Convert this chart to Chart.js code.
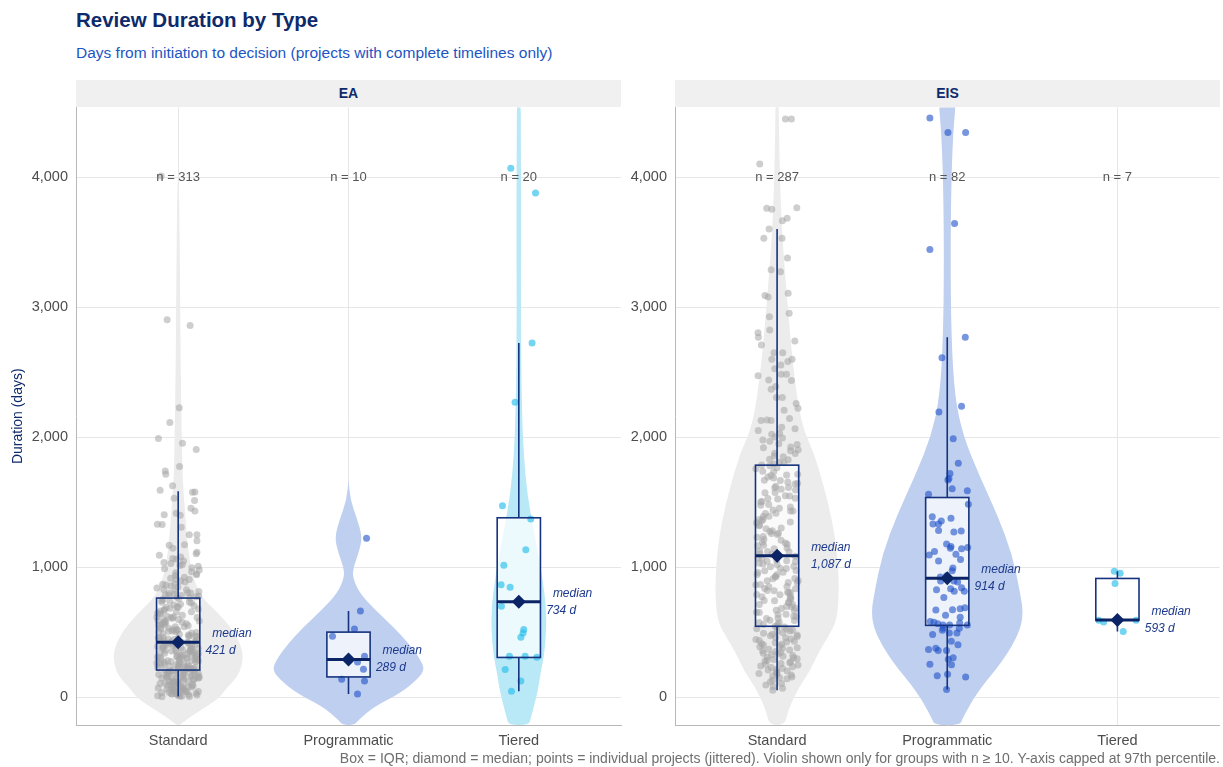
<!DOCTYPE html>
<html>
<head>
<meta charset="utf-8">
<script src="https://cdn.jsdelivr.net/npm/chart.js@4"></script>
<style>
  body { margin: 0; background: #fff; font-family: "Liberation Sans", Arial, sans-serif; }
  #page { position: relative; width: 1223px; height: 767px; overflow: hidden; }
  .abs { position: absolute; white-space: nowrap; }
  #title { left: 76px; top: 8px; font-size: 20.5px; font-weight: bold; color: #0d2a6b; }
  #subtitle { left: 76px; top: 44px; font-size: 15.5px; color: #1c55c4; }
  .strip { top: 80px; width: 545px; height: 27px; line-height: 27px; background: #f0f0f0;
           text-align: center; font-size: 14px; font-weight: bold; color: #0d2a6b; }
  #caption { right: 3px; top: 750px; font-size: 14px; color: #6e6e6e; }
  canvas { position: absolute; top: 104px; }
</style>
</head>
<body>
<div id="page">
  <div id="title" class="abs">Review Duration by Type</div>
  <div id="subtitle" class="abs">Days from initiation to decision (projects with complete timelines only)</div>
  <canvas id="chartEA" width="625" height="663" style="left:0"></canvas>
  <canvas id="chartEIS" width="598" height="663" style="left:625px"></canvas>
  <div class="abs strip" style="left:76px">EA</div>
  <div class="abs strip" style="left:675px">EIS</div>
  <div id="caption" class="abs">Box = IQR; diamond = median; points = individual projects (jittered). Violin shown only for groups with n ≥ 10. Y-axis capped at 97th percentile.</div>
</div>
<script>
// ---- data ----
const categories = ['Standard', 'Programmatic', 'Tiered'];
const yTicks = [0, 1000, 2000, 3000, 4000];

const nEA = [313, 10, 20];
const nEIS = [287, 82, 7];

// box stats (days)
const medEA = [421, 289, 734];
const q1EA = [208, 155, 305];
const q3EA = [762, 500, 1380];
const loEA = [4, 23, 45];
const hiEA = [1585, 662, 2725];

const medEIS = [1087, 914, 593];
const q1EIS = [545, 552, 592];
const q3EIS = [1785, 1536, 913];
const loEIS = [52, 58, 505];
const hiEIS = [3603, 2770, 969];

// violin outlines: levels (days) and half widths (x units)
const vEAStandardY = [-215, -150, -75, 0, 55, 130, 200, 300, 385, 515, 646, 770, 900, 1000, 1200, 1415, 1670, 2000, 2500, 3000, 3500, 4010];
const vEAStandardW = [0.012, 0.071, 0.165, 0.247, 0.276, 0.329, 0.365, 0.382, 0.371, 0.324, 0.235, 0.135, 0.094, 0.074, 0.053, 0.041, 0.026, 0.021, 0.015, 0.012, 0.009, 0.004];
const vEAProgY = [-215, -177, -77, 31, 131, 208, 285, 415, 538, 669, 800, 923, 1000, 1108, 1231, 1385, 1515, 1669];
const vEAProgW = [0.035, 0.059, 0.147, 0.306, 0.4, 0.447, 0.424, 0.353, 0.265, 0.159, 0.065, 0.024, 0.029, 0.059, 0.082, 0.047, 0.012, 0];
const vEATierY = [-215, -160, 45, 197, 348, 652, 955, 1258, 1561, 1864, 2167, 2773, 3682, 4288, 4600];
const vEATierW = [0.059, 0.071, 0.112, 0.129, 0.153, 0.165, 0.135, 0.091, 0.049, 0.029, 0.019, 0.012, 0.014, 0.012, 0.012];
const vEISStandardY = [-215, -100, 77, 200, 338, 465, 592, 846, 1108, 1362, 1615, 1877, 2100, 2538, 3054, 3569, 4000, 4460, 4600];
const vEISStandardW = [0.047, 0.065, 0.129, 0.194, 0.241, 0.3, 0.353, 0.365, 0.353, 0.324, 0.276, 0.218, 0.141, 0.094, 0.059, 0.029, 0.016, 0.01, 0.009];
const vEISProgY = [-215, -167, 39, 282, 494, 645, 797, 1100, 1403, 1706, 2009, 2312, 2767, 3373, 3979, 4342, 4524, 4600];
const vEISProgW = [0.076, 0.088, 0.176, 0.329, 0.424, 0.447, 0.429, 0.382, 0.294, 0.188, 0.094, 0.044, 0.024, 0.019, 0.024, 0.035, 0.047, 0.047];

// individual projects: [days, jitter]  (outliers / small groups)
const eaStandardOut = [[4010,-0.1],[2905,-0.065],[2860,0.07],[2226,0.006],[2113,-0.049],[1990,-0.116],[1954,0.025],[1905,0.106],[1774,0.008],[1741,-0.076],[1715,-0.073],[1626,-0.033],[1592,-0.106],[1579,0.098],[1577,0.084],[1531,-0.024],[1513,0.096],[1454,0.075],[1433,0.098],[1415,-0.012],[1403,-0.082],[1400,0.012],[1331,-0.122],[1328,-0.094],[1308,0.018],[1249,0.065],[1249,0.11],[1203,0.11],[1172,0.037],[1169,-0.053],[1146,-0.031],[1115,0.11]];
// dense part: days only
const eaStandardDays = [1104,1092,1079,1066,1061,1047,1036,1029,1013,1006,995,988,979,964,957,949,936,922,914,905,893,886,871,868,854,847,839,828,820,813,804,799,792,786,781,777,772,769,765,1018,941,907,862,826,801,784,
  759,752,743,737,730,724,715,709,703,696,690,683,674,669,662,656,648,643,637,630,623,619,611,606,598,593,587,581,576,569,565,558,553,548,542,537,530,526,519,514,508,503,497,493,487,484,478,473,468,464,459,454,450,447,443,439,435,431,428,425,422,421,612,574,541,499,456,691,655,521,471,444,586,506,732,677,560,615,
  419,416,412,408,405,400,397,391,389,382,378,376,369,367,361,358,352,350,343,341,335,332,326,323,317,315,309,306,300,298,291,289,283,280,274,272,265,263,257,254,248,246,239,237,231,228,222,220,215,212,210,209,399,373,354,334,311,297,282,262,247,229,217,404,386,362,337,318,293,277,256,238,221,391,347,306,268,232,
  206,202,196,193,187,184,178,175,170,167,161,157,154,148,146,139,137,130,128,122,119,113,111,104,102,96,93,87,85,78,76,70,67,61,59,52,50,44,41,35,33,26,24,18,15,9,7,4,199,185,173,161,146,134,120,107,95,80,69,56,43,30,16,11,192,169,142,117,89,63,37,13,180,128,77,25,154,51,3];
const eaProgPts = [[1223,0.106],[662,0.07],[523,0.035],[469,-0.094],[315,0.094],[269,0.053],[215,0.088],[138,-0.04],[123,0.094],[23,0.053]];
const eaTierPts = [[4070,-0.047],[3879,0.098],[2725,0.078],[2270,-0.022],[1473,-0.096],[1370,0.07],[1133,0.041],[1015,-0.088],[864,-0.104],[845,-0.051],[700,-0.102],[521,0.029],[494,0.025],[461,0.012],[315,-0.055],[315,0.037],[306,0.106],[212,-0.08],[124,0.012],[45,-0.043]];

const eisStandardOut = [[4449,0.049],[4449,0.084],[4103,-0.102],[3762,-0.061],[3754,-0.031],[3767,0.116],[3667,0.031],[3685,0.059],[3603,-0.047],[3531,-0.078],[3531,0.029],[3379,0.061],[3290,-0.035],[3274,0.02],[3090,-0.071],[3079,-0.053],[3108,0.065],[2954,0.071],[2928,-0.045],[2826,-0.043],[2805,-0.112],[2769,-0.11],[2710,-0.092],[2741,0.104],[2651,-0.018],[2651,0.033],[2600,-0.031],[2582,0.063],[2600,0.088],[2528,-0.014],[2556,0.022],[2474,-0.112],[2441,-0.049],[2485,0.024],[2485,0.055],[2436,0.084],[2369,-0.035],[2390,-0.008],[2305,-0.004],[2305,0.031],[2259,0.112],[2223,0.123],[2208,0.041],[2128,-0.094],[2133,-0.059],[2128,-0.035],[2144,0.073],[2077,0.027]];
const eisStandardDays = [2066,2052,2031,2022,2001,1994,1978,1969,1950,1944,1925,1919,1903,1896,1877,1874,1855,1849,1831,1826,1808,1803,1794,1787,
  1781,1766,1758,1739,1735,1716,1709,1694,1687,1669,1666,1645,1640,1623,1614,1599,1593,1574,1572,1550,1547,1529,1524,1505,1502,1482,1477,1463,1454,1440,1433,1415,1412,1391,1389,1369,1366,1347,1342,1324,1319,1302,1296,1280,1274,1259,1252,1235,1231,1212,1207,1192,1186,1169,1164,1147,1142,1125,1120,1103,1100,1091,1705,1612,1530,1433,1358,1261,1177,1118,1655,
  1083,1071,1069,1055,1046,1044,1030,1024,1021,1007,1004,991,990,975,973,960,958,944,943,928,927,913,911,898,896,882,881,867,865,852,849,836,834,821,819,805,803,790,788,774,773,759,757,744,742,728,727,713,712,698,696,683,681,668,666,652,651,637,635,622,620,606,605,591,590,576,574,561,559,546,1049,806,
  541,539,526,523,515,508,504,495,491,483,478,472,467,459,455,446,443,435,430,424,418,411,406,400,393,388,380,376,369,363,356,351,344,338,333,325,320,314,307,302,295,289,284,277,271,265,258,252,246,239,233,227,220,214,209,201,195,188,182,175,169,162,155,148,141,130,118,105,93,81,68,52];
const eisProgPts = [[4458,-0.102],[4345,0.004],[4345,0.108],[3645,0.043],[3445,-0.102],[2770,0.106],[2612,-0.031],[2194,-0.049],[2239,0.084],[1988,0.035],[1800,0.065],[1721,0.016],[1682,0.01],[1670,0.004],[1603,0.029],[1561,-0.11],[1588,0.118],[1485,0.124],[1388,-0.088],[1333,-0.084],[1333,-0.051],[1355,-0.035],[1376,0.022],[1270,0.039],[1279,0.082],[1179,-0.004],[1158,0.022],[1145,0.018],[1142,0.084],[1152,0.12],[1121,-0.075],[1094,-0.106],[1048,-0.051],[1058,0.078],[994,0.033],[973,0.029],[924,-0.041],[894,-0.039],[933,-0.004],[894,0.039],[885,0.061],[842,0.084],[815,0.1],[833,0.02],[815,0.041],[670,-0.067],[630,-0.01],[673,0.031],[679,0.076],[688,0.104],[615,0.076],[582,-0.1],[576,-0.078],[564,-0.055],[555,-0.025],[555,0.014],[570,0.073],[555,0.118],[530,-0.024],[515,-0.029],[530,0.071],[482,-0.086],[494,0.012],[494,0.057],[430,0.024],[367,-0.11],[376,-0.067],[358,-0.053],[358,-0.004],[291,0.006],[303,0.035],[252,-0.102],[248,0.025],[164,-0.059],[176,0.002],[155,0.108],[58,-0.004],[1282,-0.051],[1100,0.051],[767,-0.02],[827,-0.063],[403,0.063]];
const eisTierPts = [[969,-0.018],[954,0.016],[875,-0.014],[592,-0.11],[577,-0.081],[592,0.11],[505,0.034]];

// ---- styling ----
const navy = '#0b2466';
const boxLine = '#15337e';
const violinFill = ['#ececec', '#bfcfef', '#b9e8f7'];
const pointFill = ['rgba(165,165,165,0.55)', 'rgba(30,80,200,0.6)', 'rgba(40,190,235,0.65)'];
Chart.defaults.font.family = '"Liberation Sans", Arial, sans-serif';

// deterministic horizontal spread for the dense clouds (position only)
function jitter(i) {
  const h = Math.sin((i + 1) * 12.9898) * 43758.5453;
  return ((h - Math.floor(h)) - 0.5) * 0.25;
}

function toPoints(cat, pairs, days) {
  const out = pairs.map(p => ({ x: cat + p[1], y: p[0] }));
  (days || []).forEach((d, i) => out.push({ x: cat + jitter(i), y: d }));
  return out;
}

function smoothClosed(ctx, pts) {
  const n = pts.length;
  const mid = (a, b) => [(a[0] + b[0]) / 2, (a[1] + b[1]) / 2];
  let m = mid(pts[n - 1], pts[0]);
  ctx.beginPath();
  ctx.moveTo(m[0], m[1]);
  for (let i = 0; i < n; i++) {
    const p = pts[i], q = pts[(i + 1) % n];
    m = mid(p, q);
    ctx.quadraticCurveTo(p[0], p[1], m[0], m[1]);
  }
  ctx.closePath();
}

function panelPlugin(p) {
  const bw = 0.127;
  return {
    id: 'panel' + p.name,
    beforeDatasetsDraw(chart) {
      const { ctx, chartArea: a, scales: { x, y } } = chart;
      ctx.save();
      ctx.beginPath();
      ctx.rect(a.left, a.top, a.right - a.left, a.bottom - a.top);
      ctx.clip();
      p.violins.forEach((v, i) => {
        if (!v) return;
        const c = i + 1;
        const pts = [];
        for (let k = 0; k < v[0].length; k++) pts.push([x.getPixelForValue(c - v[1][k]), y.getPixelForValue(v[0][k])]);
        for (let k = v[0].length - 1; k >= 0; k--) pts.push([x.getPixelForValue(c + v[1][k]), y.getPixelForValue(v[0][k])]);
        smoothClosed(ctx, pts);
        ctx.fillStyle = violinFill[i];
        ctx.fill();
      });
      // box fill under the points
      categories.forEach((cat, i) => {
        const c = i + 1;
        const l = x.getPixelForValue(c - bw), r = x.getPixelForValue(c + bw);
        const t = y.getPixelForValue(p.q3[i]), b = y.getPixelForValue(p.q1[i]);
        ctx.fillStyle = 'rgba(255,255,255,0.72)';
        ctx.fillRect(l, t, r - l, b - t);
      });
      ctx.restore();
    },
    afterDatasetsDraw(chart) {
      const { ctx, scales: { x, y } } = chart;
      ctx.save();
      categories.forEach((cat, i) => {
        const c = i + 1;
        const cx = x.getPixelForValue(c);
        const l = x.getPixelForValue(c - bw), r = x.getPixelForValue(c + bw);
        const t = y.getPixelForValue(p.q3[i]), b = y.getPixelForValue(p.q1[i]);
        const m = y.getPixelForValue(p.med[i]);
        // whiskers
        ctx.strokeStyle = boxLine;
        ctx.lineWidth = 1.6;
        ctx.beginPath();
        ctx.moveTo(cx, t); ctx.lineTo(cx, y.getPixelForValue(p.hi[i]));
        ctx.moveTo(cx, b); ctx.lineTo(cx, y.getPixelForValue(p.lo[i]));
        ctx.stroke();
        ctx.strokeRect(l, t, r - l, b - t);
        // median
        ctx.strokeStyle = navy;
        ctx.lineWidth = 3;
        ctx.beginPath();
        ctx.moveTo(l, m); ctx.lineTo(r, m);
        ctx.stroke();
        ctx.fillStyle = navy;
        ctx.beginPath();
        ctx.moveTo(cx, m - 7); ctx.lineTo(cx + 7, m); ctx.lineTo(cx, m + 7); ctx.lineTo(cx - 7, m);
        ctx.closePath();
        ctx.fill();
        // median label
        ctx.font = 'italic 12px "Liberation Sans", Arial, sans-serif';
        ctx.fillStyle = '#1d3a8c';
        ctx.textAlign = 'left';
        ctx.textBaseline = 'middle';
        const lx = x.getPixelForValue(c + 0.2);
        ctx.fillText('median', lx, m - 8.5);
        const val = p.med[i].toLocaleString('en-US') + ' d';
        const w = ctx.measureText(val).width;
        ctx.fillText(val, lx - 8 + Math.max(0, w - 28) * 0.65, m + 8.5);
        // n label
        ctx.font = '13px "Liberation Sans", Arial, sans-serif';
        ctx.fillStyle = '#555555';
        ctx.textAlign = 'center';
        ctx.fillText('n = ' + p.n[i], cx, y.getPixelForValue(4000));
      });
      ctx.restore();
    }
  };
}

function makeChart(id, p, yWidth, showTitle, padRight) {
  const datasets = p.points.map((pts, i) => ({
    data: pts,
    backgroundColor: pointFill[i],
    borderWidth: 0,
    pointRadius: 3.5,
    pointHoverRadius: 3.5
  }));
  return new Chart(document.getElementById(id), {
    type: 'scatter',
    data: { datasets },
    plugins: [panelPlugin(p)],
    options: {
      responsive: false,
      animation: false,
      layout: { padding: { top: 0, right: padRight, left: 0, bottom: 0 } },
      plugins: { legend: { display: false }, tooltip: { enabled: false } },
      scales: {
        x: {
          type: 'linear', min: 0.4, max: 3.6,
          afterBuildTicks: s => { s.ticks = categories.map((c, i) => ({ value: i + 1 })); },
          afterFit: s => { s.height = 42; s.paddingLeft = 0; s.paddingRight = 0; },
          ticks: { callback: v => categories[Math.round(v) - 1], color: '#4d4d4d', font: { size: 14.5 }, padding: 7, maxRotation: 0, autoSkip: false },
          grid: { color: '#e6e6e6', drawTicks: false },
          border: { color: '#b8b8b8' }
        },
        y: {
          min: -215, max: 4538,
          afterBuildTicks: s => { s.ticks = yTicks.map(v => ({ value: v })); },
          afterFit: s => { s.width = yWidth; s.paddingTop = 0; s.paddingBottom = 0; },
          ticks: { callback: v => v.toLocaleString('en-US'), color: '#4d4d4d', font: { size: 14.5 }, padding: 8 },
          grid: { color: '#e6e6e6', drawTicks: false },
          border: { color: '#b8b8b8' },
          title: { display: showTitle, text: 'Duration (days)', color: '#0d2a6b', font: { size: 14 }, padding: { top: 10, bottom: 0 } }
        }
      }
    }
  });
}

const eaPanel = {
  name: 'EA', n: nEA, med: medEA, q1: q1EA, q3: q3EA, lo: loEA, hi: hiEA,
  violins: [[vEAStandardY, vEAStandardW], [vEAProgY, vEAProgW], [vEATierY, vEATierW]],
  points: [toPoints(1, eaStandardOut, eaStandardDays), toPoints(2, eaProgPts), toPoints(3, eaTierPts)]
};
const eisPanel = {
  name: 'EIS', n: nEIS, med: medEIS, q1: q1EIS, q3: q3EIS, lo: loEIS, hi: hiEIS,
  violins: [[vEISStandardY, vEISStandardW], [vEISProgY, vEISProgW], null],
  points: [toPoints(1, eisStandardOut, eisStandardDays), toPoints(2, eisProgPts), toPoints(3, eisTierPts)]
};

makeChart('chartEA', eaPanel, 76, true, 4);
makeChart('chartEIS', eisPanel, 50, false, 3);
</script>
</body>
</html>
